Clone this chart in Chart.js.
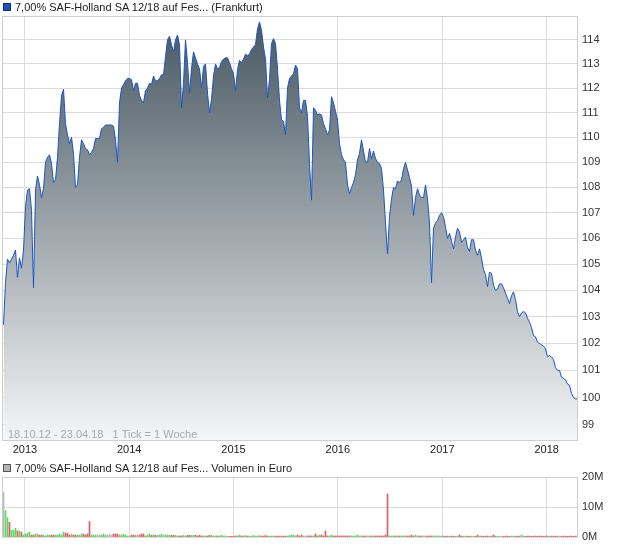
<!DOCTYPE html>
<html lang="de">
<head>
<meta charset="utf-8">
<title>7,00% SAF-Holland SA 12/18</title>
<script src="https://cdn.jsdelivr.net/npm/chart.js@4.4.1/dist/chart.umd.min.js"></script>
<style>
  body { margin: 0; background: #fff; font-family: "Liberation Sans", Arial, sans-serif; }
  #contenedor { position: relative; width: 620px; height: 546px; overflow: hidden; }
  canvas { position: absolute; left: 0; }
  .leyenda { position: absolute; left: 3px; font-size: 11px; color: #222; line-height: 14px; white-space: nowrap; }
  .leyenda span { display: inline-block; width: 6px; height: 6px; margin-right: 4px; vertical-align: 0px; }
</style>
</head>
<body>
<div id="contenedor">
  <canvas id="chartPrecio" width="620" height="462" style="top:0"></canvas>
  <canvas id="chartVolumen" width="620" height="82" style="top:466px"></canvas>
  <div class="leyenda" style="top:0px"><span style="background:#1d50b8;border:1px solid #0d2f78"></span>7,00% SAF-Holland SA 12/18 auf Fes... (Frankfurt)</div>
  <div class="leyenda" style="top:461px"><span style="background:#b4b4b4;border:1px solid #555"></span>7,00% SAF-Holland SA 12/18 auf Fes... Volumen in Euro</div>
</div>
<script>
// Datos semanales (1 Tick = 1 Woche), 18.10.12 - 23.04.18
const fechaInicio = Date.UTC(2012, 9, 18);
const semana = 7 * 864e5;
const dia = 864e5;

const anios = [2013, 2014, 2015, 2016, 2017, 2018];
const ticksPrecio = [99, 100, 101, 102, 103, 104, 105, 106, 107, 108, 109, 110, 111, 112, 113, 114];
const ticksVolumen = [0, 10, 20];

// Kurs (log. Skala)
const precios = [
  102.7, 104.3, 105.2, 105.05, 105.2, 105.35, 105.55, 104.5, 105.25, 104.85,
  105.55, 107.25, 107.9, 107.95, 107.1, 104.1, 107.9, 108.45, 108.1, 107.6,
  107.95, 109.0, 109.2, 109.3, 108.95, 108.2, 108.3, 109.2, 110.55, 111.7,
  111.95, 110.55, 110.1, 109.75, 110.0, 109.35, 108.0, 108.1, 109.2, 109.9,
  109.75, 109.55, 109.5, 109.3, 109.4, 109.55, 109.95, 109.95, 109.95, 110.35,
  110.4, 110.5, 110.5, 110.5, 110.5, 110.45, 109.9, 109.0, 111.4, 112.0,
  112.15, 112.3, 112.4, 112.4, 112.35, 111.9, 112.2, 112.2, 111.7, 111.5,
  111.4, 111.9, 112.0, 112.2, 112.15, 112.5, 112.3, 112.3, 112.4, 112.55,
  112.55, 113.3, 114.0, 114.15, 113.8, 113.5, 114.0, 114.2, 113.8, 111.2,
  112.2, 114.0, 113.05, 111.8, 112.8, 113.5, 113.25, 113.0, 112.8, 112.0,
  112.9, 113.0, 111.8, 111.0, 111.55, 112.5, 113.0, 112.8, 112.85, 113.1,
  113.2, 113.25, 113.25, 113.05, 112.8, 112.6, 111.9, 112.75, 113.15, 113.05,
  113.2, 113.4, 113.35, 113.4, 113.6, 113.7, 113.8, 114.45, 114.75, 114.4,
  113.7, 113.2, 111.6, 112.35, 113.85, 114.05, 113.85, 112.8, 111.5, 110.7,
  110.65, 110.1, 112.0, 112.4, 112.5, 112.6, 112.95, 112.8, 111.2, 111.0,
  111.5, 111.5, 110.85, 108.95, 107.5, 111.2, 111.1, 110.9, 110.95, 110.9,
  110.55, 110.35, 110.1, 110.3, 111.65, 111.4, 111.05, 110.7, 109.75, 109.3,
  109.1, 109.0, 108.1, 107.75, 108.0, 108.2, 108.5, 109.1, 109.35, 109.9,
  109.45, 109.0, 109.0, 109.55, 109.15, 109.45, 109.15, 109.0, 108.95, 108.75,
  107.9, 106.6, 105.4, 106.85, 107.55, 108.0, 107.95, 108.25, 108.2, 108.3,
  108.75, 109.0, 108.7, 108.4, 108.05, 106.9, 107.6, 107.95, 107.7, 107.6,
  107.6, 108.1, 107.55, 106.6, 104.3, 106.4, 106.6, 106.7, 106.9, 107.0,
  106.85, 106.45, 106.0, 106.2, 105.9, 105.6, 106.05, 106.4, 106.25, 105.85,
  105.95, 106.05, 105.65, 105.5, 105.95, 105.95, 105.55, 105.35, 105.6, 105.25,
  104.8, 104.6, 104.15, 104.7, 104.65, 104.2, 104.0, 104.05, 104.25, 104.25,
  104.1, 103.9, 103.7, 103.5, 103.8, 103.95, 103.65, 103.2, 103.0, 103.15,
  103.2, 103.15, 102.95, 102.8, 102.6, 102.3, 102.25, 102.05, 102.0, 101.95,
  101.9, 101.8, 101.5, 101.55, 101.5, 101.4, 101.1, 101.0, 101.0, 100.75,
  100.7, 100.65, 100.5, 100.45, 100.15, 100.0, 99.95, 99.95
];

// Volumen in Mio. Euro
const volumen = [
  15, 8.8, 6.5, 4.9, 2.3, 2.3, 2.9, 2.0, 2.0, 1.6,
  0.65, 1.0, 1.3, 1.6, 0.65, 0.65, 1.0, 1.0, 0.65, 0.65,
  0.65, 0.35, 0.65, 0.65, 0.65, 0.65, 0.65, 0.65, 1.0, 0.65,
  1.6, 1.3, 1.3, 0.65, 1.0, 0.65, 0.65, 0.65, 0.65, 1.0,
  1.0, 0.65, 1.0, 5.2, 0.65, 0.65, 0.65, 0.65, 0.65, 0.65,
  1.0, 0.65, 0.65, 1.0, 0.65, 1.0, 1.0, 1.0, 0.65, 0.65,
  1.0, 0.65, 0.35, 0.35, 0.65, 0.65, 0.65, 0.65, 0.65, 1.0,
  1.0, 0.35, 0.65, 1.0, 0.55, 0.75, 0.55, 0.55, 0.75, 0.9,
  0.75, 0.65, 0.65, 0.55, 0.55, 0.55, 0.55, 0.35, 0.35, 0.35,
  0.55, 0.35, 0.55, 0.55, 0.55, 0.55, 0.55, 0.35, 0.55, 0.35,
  0.35, 0.35, 0.35, 0.55, 0.55, 0.35, 0.35, 0.35, 0.35, 0.55,
  0.35, 0.35, 0.25, 0.25, 0.25, 0.25, 0.35, 0.35, 0.55, 0.35,
  0.3, 0.5, 0.3, 0.3, 0.3, 0.5, 0.3, 0.3, 0.5, 0.3,
  0.3, 0.5, 0.3, 0.3, 0.3, 0.3, 0.3, 0.3, 0.3, 0.3,
  0.3, 0.3, 0.3, 0.5, 0.65, 0.65, 0.35, 0.65, 0.35, 0.65,
  0.35, 0.35, 0.35, 0.35, 0.35, 0.35, 1.0, 0.35, 0.65, 0.65,
  0.35, 2.0, 0.35, 0.35, 0.65, 0.35, 0.35, 0.35, 0.35, 0.35,
  0.35, 0.35, 0.35, 0.35, 0.35, 0.35, 0.35, 0.65, 0.35, 0.35,
  0.35, 0.35, 0.35, 0.35, 0.35, 0.35, 0.35, 0.35, 0.35, 0.35,
  0.35, 0.65, 14.3, 0.35, 0.35, 0.35, 0.35, 0.35, 0.35, 0.35,
  0.35, 0.35, 0.35, 0.35, 0.65, 0.35, 0.65, 0.35, 0.35, 0.35,
  0.35, 0.35, 0.35, 0.35, 0.35, 0.35, 0.35, 0.35, 0.35, 0.3,
  0.3, 0.25, 0.3, 0.25, 0.3, 0.3, 0.25, 0.3, 0.65, 0.3,
  0.25, 0.3, 0.3, 0.25, 0.3, 0.3, 0.25, 0.65, 0.3, 0.3,
  0.25, 0.3, 0.3, 0.25, 0.3, 0.65, 0.3, 0.25, 0.3, 0.3,
  0.25, 0.3, 0.3, 0.25, 0.3, 0.3, 0.25, 0.3, 0.3, 0.65,
  0.3, 0.25, 0.3, 0.3, 0.25, 0.3, 0.3, 0.25, 0.3, 0.3,
  0.25, 0.3, 0.3, 0.25, 0.3, 0.3, 0.25, 0.3, 0.3, 0.25,
  0.3, 0.3, 0.25, 0.3, 0.3, 0.25, 0.3, 0.3
];

const fuente = '"Liberation Sans", Arial, sans-serif';
Chart.defaults.font.family = fuente;
Chart.defaults.animation = false;

// Rango del eje: 576 px de ancho, 1 semana = 2 px para que las barras caigan en pixeles enteros
const ejeMin = fechaInicio - 5.25 * dia;
const ejeMax = ejeMin + 288 * semana;

const puntosPrecio = precios.map((p, i) => ({ x: fechaInicio + i * semana, y: p }));
const puntosVolumen = volumen.map((v, i) => ({ x: fechaInicio + i * semana, y: v }));

// verde si sube, rojo si baja
const coloresVolumen = volumen.map((v, i) => {
  if (i === 0 || precios[i] === precios[i - 1]) return '#b9b9b9';
  return precios[i] > precios[i - 1] ? '#5fd35f' : '#df5a62';
});

const ticksAnios = () => anios.map(a => ({ value: Date.UTC(a, 0, 1) }));

// Degradado del área
const degradado = (context) => {
  const { ctx, chartArea } = context.chart;
  if (!chartArea) return 'rgba(0,0,0,0)';
  const g = ctx.createLinearGradient(0, chartArea.top, 0, chartArea.bottom);
  g.addColorStop(0, '#465660');
  g.addColorStop(1, '#f5f6f7');
  return g;
};

const dibujarMarco = (chart, opts) => {
  const { ctx, chartArea: a } = chart;
  ctx.save();
  if (opts.texto) {
    ctx.font = '11px ' + fuente;
    ctx.fillStyle = '#a9a9a9';
    ctx.textBaseline = 'middle';
    ctx.fillText(opts.texto, a.left + 6, a.bottom - 6);
  }
  ctx.strokeStyle = '#cfcfcf';
  ctx.lineWidth = 1;
  ctx.strokeRect(Math.round(a.left) + 0.5, Math.round(a.top) + 0.5, Math.round(a.width) - 1, Math.round(a.height) - 1);
  ctx.restore();
};

// Marco del área y texto del período (encima o debajo de los datos)
const marcoPlugin = {
  id: 'marco',
  beforeDatasetsDraw(chart, args, opts) {
    if (!opts.encima) dibujarMarco(chart, opts);
  },
  afterDatasetsDraw(chart, args, opts) {
    if (opts.encima) dibujarMarco(chart, opts);
  }
};

new Chart(document.getElementById('chartPrecio'), {
  type: 'line',
  data: {
    datasets: [{
      data: puntosPrecio,
      borderColor: '#1a55c5',
      borderWidth: 1,
      pointRadius: 0,
      tension: 0,
      fill: 'start',
      backgroundColor: degradado
    }]
  },
  options: {
    responsive: false,
    layout: { padding: { left: 2, top: 16, right: 0, bottom: 0 } },
    plugins: {
      legend: { display: false },
      tooltip: { enabled: false },
      marco: { encima: true, texto: '18.10.12 - 23.04.18   1 Tick = 1 Woche' }
    },
    scales: {
      x: {
        type: 'linear',
        min: ejeMin,
        max: ejeMax,
        afterBuildTicks: s => { s.ticks = ticksAnios(); },
        afterFit: s => { s.height = 21; },
        grid: { color: '#dcdcdc', drawTicks: false },
        border: { display: false },
        ticks: {
          autoSkip: false,
          maxRotation: 0,
          padding: 2,
          color: '#222',
          font: { size: 11 },
          callback: v => String(new Date(v).getUTCFullYear())
        }
      },
      y: {
        type: 'logarithmic',
        position: 'right',
        min: 98.42,
        max: 115.0,
        afterBuildTicks: s => { s.ticks = ticksPrecio.map(v => ({ value: v })); },
        afterFit: s => { s.width = 42; },
        grid: { color: '#dcdcdc', drawTicks: false },
        border: { display: false },
        ticks: {
          autoSkip: false,
          padding: 4,
          color: '#333',
          font: { size: 11 },
          callback: v => String(v)
        }
      }
    }
  },
  plugins: [marcoPlugin]
});

new Chart(document.getElementById('chartVolumen'), {
  type: 'bar',
  data: {
    datasets: [{
      data: puntosVolumen,
      backgroundColor: coloresVolumen,
      barThickness: 1,
      borderWidth: 0
    }]
  },
  options: {
    responsive: false,
    layout: { padding: { left: 2, top: 11, right: 0, bottom: 0 } },
    plugins: {
      legend: { display: false },
      tooltip: { enabled: false },
      marco: { encima: false }
    },
    scales: {
      x: {
        type: 'linear',
        offset: false,
        min: ejeMin,
        max: ejeMax,
        afterBuildTicks: s => { s.ticks = ticksAnios(); },
        afterFit: s => { s.height = 11; },
        grid: { color: '#dcdcdc', drawTicks: false, offset: false },
        border: { display: false },
        ticks: { display: false }
      },
      y: {
        position: 'right',
        min: 0,
        max: 20,
        afterBuildTicks: s => { s.ticks = ticksVolumen.map(v => ({ value: v })); },
        afterFit: s => { s.width = 42; },
        grid: { color: '#dcdcdc', drawTicks: false },
        border: { display: false },
        ticks: {
          padding: 4,
          color: '#333',
          font: { size: 11 },
          callback: v => v + 'M'
        }
      }
    }
  },
  plugins: [marcoPlugin]
});
</script>
</body>
</html>
